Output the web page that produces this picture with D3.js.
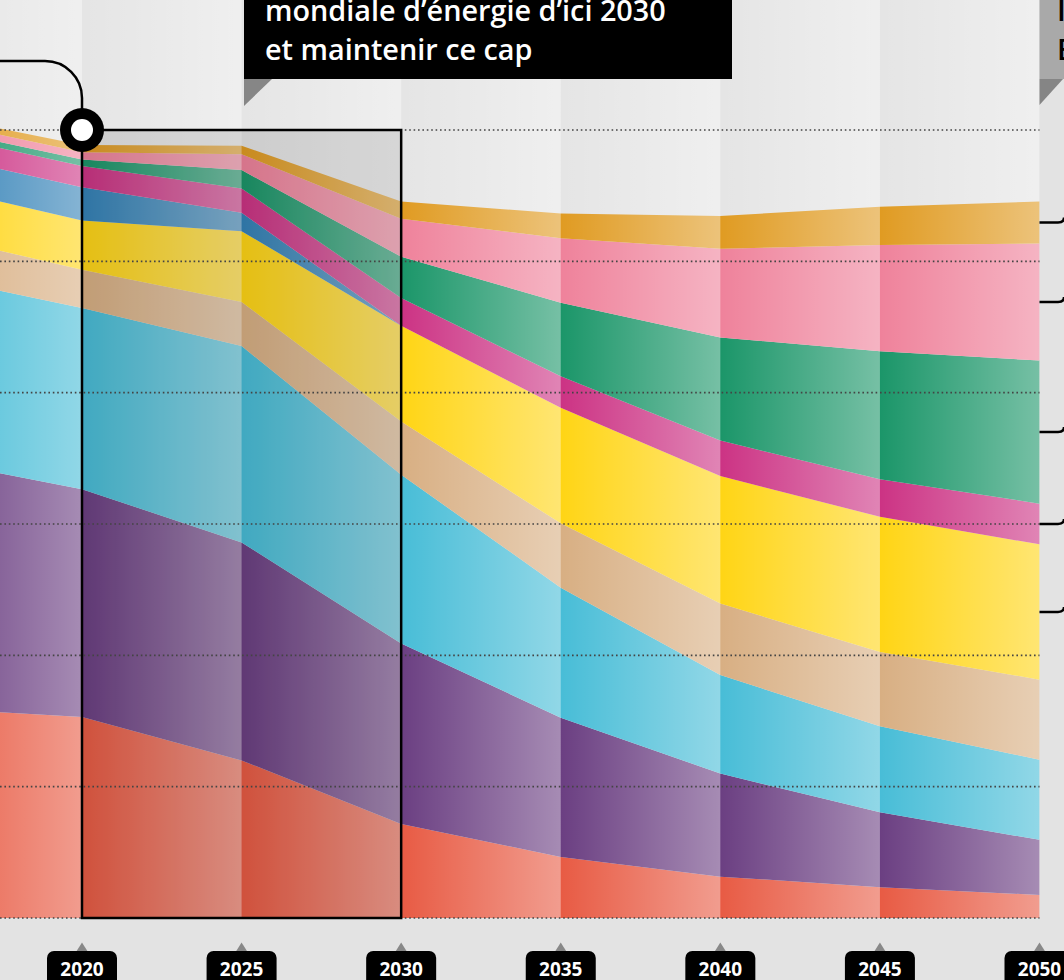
<!DOCTYPE html>
<html><head><meta charset="utf-8">
<script src="https://cdn.jsdelivr.net/npm/d3@7"></script>
<style>html,body{margin:0;padding:0;background:#e3e3e3;overflow:hidden}</style>
</head><body>
<svg id="c" width="1064" height="980"></svg>
<script>
// ---- data (EJ) ----
const years        = [2015, 2020, 2025, 2030, 2035, 2040, 2045, 2050];
const charbon      = [160, 153, 120, 71.5, 46.5, 31.5, 23.5, 17.5];
const petrole      = [190, 173.5, 166, 137.5, 106, 78.5, 57, 42];
const gaz          = [140, 138, 149.5, 128.5, 99, 75, 65.5, 61];
const nucleaire    = [32, 29, 33.5, 40.5, 49, 54.5, 56.5, 61];
const bioenergie   = [37.5, 37.5, 54, 73, 88, 97, 103, 103];
const biomasseTrad = [24, 25.5, 14, 0, 0, 0, 0, 0];
const hydro        = [16, 16, 18.5, 21, 24, 27, 28.5, 31];
const eolien       = [4, 5, 14, 31.5, 56, 78.5, 97.5, 109];
const solaire      = [5.5, 5.5, 12, 29, 49, 67.5, 81, 89];
const autres       = [4, 5.5, 6.5, 13, 19, 25, 29, 32];
const gridValues   = [0, 100, 200, 300, 400, 500, 600];
const tickYears    = [2020, 2025, 2030, 2035, 2040, 2045, 2050];
const boxLines     = ["mondiale d\u2019énergie d\u2019ici 2030", "et maintenir ce cap"];
const sideLines    = ["Intensifier", "Electrifier"];

const series = {charbon, petrole, gaz, nucleaire, bioenergie, biomasseTrad, hydro, eolien, solaire, autres};
const keys = Object.keys(series);
const colors = {
  charbon:"#e85b44", petrole:"#6b3f82", gaz:"#48bdd7", nucleaire:"#d8af83",
  bioenergie:"#ffd515", biomasseTrad:"#3482b7", hydro:"#cc3384", eolien:"#1b9669",
  solaire:"#ef829b", autres:"#e09b22"
};
const table = years.map((yr,i)=>{const o={year:yr}; keys.forEach(k=>o[k]=series[k][i]); return o;});

const svg = d3.select("#c");
const x = d3.scaleLinear().domain([2020,2050]).range([82,1039.5]);
const y = d3.scaleLinear().domain([0,600]).range([918,130]);
const right = x(2050), bottom = y(0);

const defs = svg.append("defs");
const g1 = defs.append("linearGradient").attr("id","fade").attr("x1",0).attr("x2",1).attr("y1",0).attr("y2",0);
g1.append("stop").attr("offset",0).attr("stop-color","#fff").attr("stop-opacity",0);
g1.append("stop").attr("offset",1).attr("stop-color","#fff").attr("stop-opacity",0.4);
defs.append("clipPath").attr("id","plot").append("rect").attr("x",0).attr("y",0).attr("width",right).attr("height",bottom);

svg.append("rect").attr("width",1064).attr("height",980).attr("fill","#e3e3e3");
const plot = svg.append("g").attr("clip-path","url(#plot)");
plot.append("rect").attr("x",0).attr("y",0).attr("width",right).attr("height",bottom).attr("fill","#e5e5e5");

const stack = d3.stack().keys(keys)(table);
const area = d3.area().x(d=>x(d.data.year)).y0(d=>y(d[0])).y1(d=>y(d[1]));
plot.selectAll("path.layer").data(stack).join("path").attr("class","layer")
  .attr("d",area).attr("fill",d=>colors[d.key]);

// per-segment gradient overlay
const segs = d3.pairs(years);
plot.selectAll("rect.seg").data(segs).join("rect").attr("class","seg")
  .attr("x",d=>x(d[0])).attr("width",d=>x(d[1])-x(d[0]))
  .attr("y",0).attr("height",bottom).attr("fill","url(#fade)");

// highlighted box 2020-2030
const bx0 = x(2020), bx1 = x(2030), by0 = y(600);
svg.append("rect").attr("x",bx0).attr("y",by0).attr("width",bx1-bx0).attr("height",bottom-by0)
  .attr("fill","#000").attr("fill-opacity",0.1);

// dotted gridlines
svg.selectAll("line.grid").data(gridValues).join("line").attr("class","grid")
  .attr("x1",0).attr("x2",right).attr("y1",d=>y(d)).attr("y2",d=>y(d))
  .attr("stroke","#444").attr("stroke-width",1.6).attr("stroke-dasharray","1.6,2.8");

svg.append("rect").attr("x",bx0).attr("y",by0).attr("width",bx1-bx0).attr("height",bottom-by0)
  .attr("fill","none").attr("stroke","#000").attr("stroke-width",2.5);

// left annotation connector
svg.append("path").attr("d",`M0,61 H45 A37,37 0 0 1 ${bx0},98 V${by0}`)
  .attr("fill","none").attr("stroke","#000").attr("stroke-width",2.5);
svg.append("circle").attr("cx",bx0).attr("cy",by0).attr("r",22).attr("fill","#000");
svg.append("circle").attr("cx",bx0).attr("cy",by0).attr("r",11).attr("fill","#fff");

// black label box
svg.append("rect").attr("x",244).attr("y",-10).attr("width",488).attr("height",89).attr("fill","#000");
svg.append("path").attr("d","M244,79 L272,79 L244,106 Z").attr("fill","#868686");
const bt = svg.append("g").attr("font-family","'Open Sans', sans-serif").attr("font-weight",600)
  .attr("font-size",28.8).attr("fill","#fff");
bt.selectAll("text").data(boxLines).join("text").attr("x",265).attr("y",(d,i)=>21+i*39).text(d=>d);

// right gray box (partially visible)
svg.append("rect").attr("x",1039.5).attr("y",-10).attr("width",40).attr("height",89).attr("fill","#a9a9a9");
svg.append("path").attr("d","M1039.5,79 L1063,79 L1039.5,105 Z").attr("fill","#858585");
svg.append("g").attr("font-family","'Open Sans', sans-serif").attr("font-weight",600)
  .attr("font-size",28.8).attr("fill","#000")
  .selectAll("text").data(sideLines).join("text").attr("x",1057).attr("y",(d,i)=>21+i*39).text(d=>d);

// right leader lines at band centres (top bands) in 2050
const last = years.length-1;
const leaderKeys = ["autres","solaire","eolien","hydro","bioenergie"];
const leaders = leaderKeys.map(k=>{const s=stack.find(s=>s.key===k)[last]; return y((s[0]+s[1])/2);});
svg.selectAll("path.lead").data(leaders).join("path").attr("class","lead")
  .attr("d",d=>`M${right},${d} H1058 Q1064,${d} 1064,${d-5}`)
  .attr("fill","none").attr("stroke","#000").attr("stroke-width",2.5);

// x axis labels
const ax = svg.append("g");
const tk = ax.selectAll("g").data(tickYears).join("g").attr("transform",d=>`translate(${x(d)},0)`);
tk.append("path").attr("d","M-6,952 L0,942.5 L6,952 Z").attr("fill","#888");
tk.append("rect").attr("x",-35).attr("y",951).attr("width",70).attr("height",40).attr("rx",7).attr("fill","#000");
tk.append("text").attr("y",975.5).attr("text-anchor","middle").attr("fill","#fff")
  .attr("font-family","'Open Sans', sans-serif").attr("font-weight",700).attr("font-size",19).text(d=>d);
</script>
</body></html>
